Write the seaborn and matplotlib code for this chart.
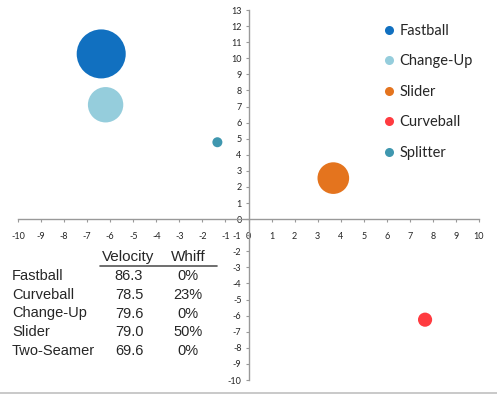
import matplotlib
matplotlib.use('Agg')
import matplotlib.pyplot as plt
from matplotlib.lines import Line2D
import seaborn as sns
import pandas as pd

# Pitch movement bubbles (horizontal break, vertical break, usage %)
pitches = ['Fastball', 'Change-Up', 'Slider', 'Curveball', 'Splitter']
hBreak = [-6.39, -6.2, 3.68, 7.66, -1.35]
vBreak = [10.27, 7.11, 2.55, -6.25, 4.78]
usage = [48, 25, 20, 4, 2]
colors = ['#1170C0', '#95CDDC', '#E4741E', '#FF3B40', '#3F97AF']

# Velocity / whiff table
tablePitches = ['Fastball', 'Curveball', 'Change-Up', 'Slider', 'Two-Seamer']
tableVelocity = ['86.3', '78.5', '79.6', '79.0', '69.6']
tableWhiff = ['0%', '23%', '0%', '50%', '0%']

df = pd.DataFrame({'pitch': pitches, 'h': hBreak, 'v': vBreak, 'usage': usage})
palette = dict(zip(pitches, colors))

sns.set_style('white')
plt.rcParams['font.family'] = ['Lato', 'DejaVu Sans']
plt.rcParams['axes.unicode_minus'] = False

W, H = 497, 394
fig = plt.figure(figsize=(W / 100, H / 100), dpi=100)
ax = fig.add_axes([18 / W, 14 / H, 461 / W, 370 / H])

sns.scatterplot(data=df, x='h', y='v', hue='pitch', palette=palette, size='usage',
                sizes=(0, 1246), size_norm=(0, 48), legend=False, edgecolor='none',
                alpha=1, ax=ax)

ax.set_xlim(-10, 10)
ax.set_ylim(-10, 13)
ax.set_xticks(range(-10, 11))
ax.set_yticks(range(-10, 14))
ax.set_xlabel('')
ax.set_ylabel('')

for side in ['top', 'right']:
    ax.spines[side].set_visible(False)
for side in ['left', 'bottom']:
    ax.spines[side].set_position(('data', 0))
    ax.spines[side].set_color('#999999')
    ax.spines[side].set_linewidth(1)

ax.tick_params(axis='both', which='major', labelsize=6.5, length=2.5, width=0.8,
               color='#999999', direction='out', left=True, bottom=True)
ax.tick_params(axis='x', pad=7)
ax.tick_params(axis='y', pad=2.5)

# Legend
handles = [Line2D([0], [0], marker='o', linestyle='none', markersize=6.5,
                  markerfacecolor=c, markeredgecolor='none') for c in colors]
ax.legend(handles, pitches, loc='upper left', bbox_to_anchor=(383.5 / W, 1 - 24 / H),
          bbox_transform=fig.transFigure, frameon=False, fontsize=10.5, borderpad=0,
          borderaxespad=0, handlelength=0.8, handletextpad=0.3, labelspacing=1.13)

# Table text
tfont = ['Liberation Sans', 'DejaVu Sans']
fig.text(128 / W, 1 - 257 / H, 'Velocity', ha='center', va='center', fontsize=11, family=tfont)
fig.text(188 / W, 1 - 257 / H, 'Whiff', ha='center', va='center', fontsize=11, family=tfont)
fig.add_artist(Line2D([100 / W, 217 / W], [1 - 266 / H, 1 - 266 / H], color='#555555', lw=1.2))
for i, (name, vel, whiff) in enumerate(zip(tablePitches, tableVelocity, tableWhiff)):
    yPos = 1 - (276 + i * 18.75) / H
    fig.text(12 / W, yPos, name, ha='left', va='center', fontsize=10.5, family=tfont)
    fig.text(129 / W, yPos, vel, ha='center', va='center', fontsize=10.5, family=tfont)
    fig.text(188 / W, yPos, whiff, ha='center', va='center', fontsize=10.5, family=tfont)

# Bottom border line
fig.add_artist(Line2D([0, 1], [1 / H, 1 / H], color='#C0C0C0', lw=1.2))

fig.savefig('out.png', dpi=100)
